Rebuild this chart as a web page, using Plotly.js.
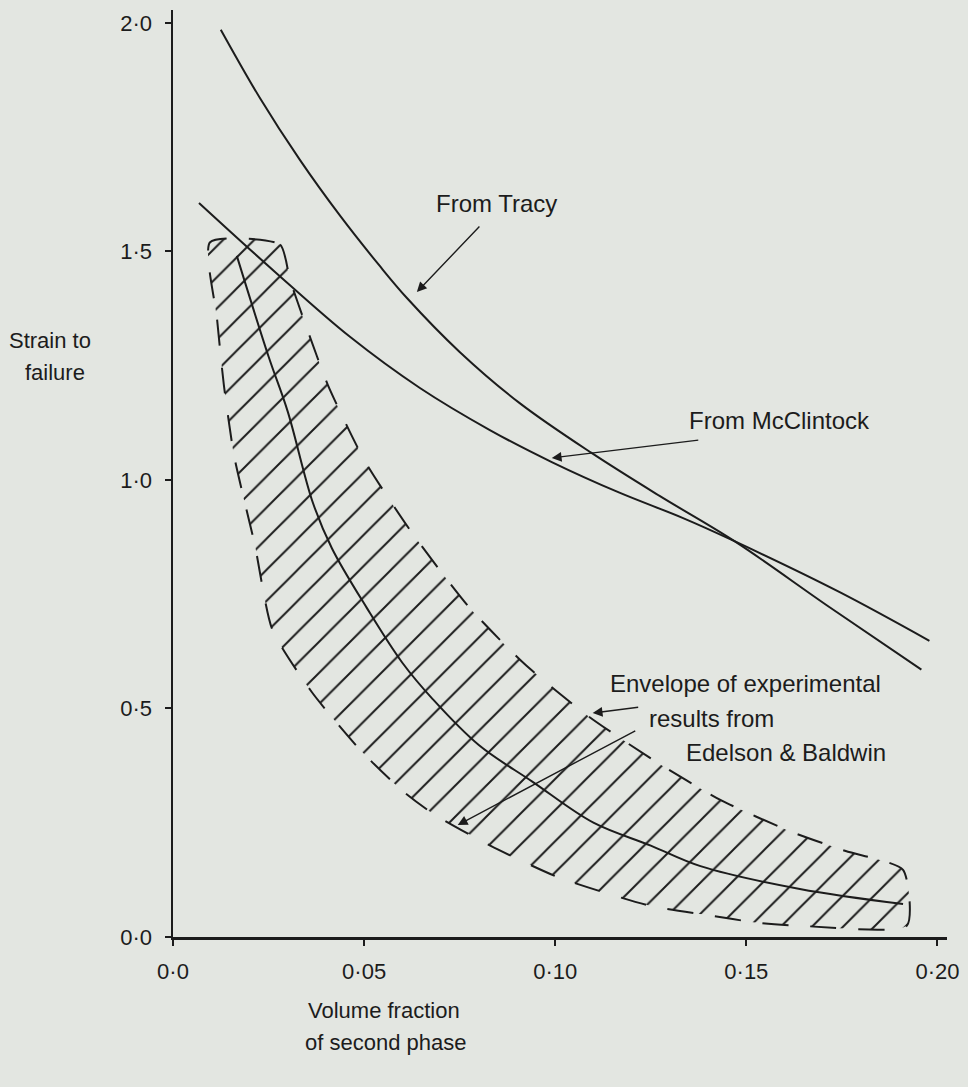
<!DOCTYPE html>
<html>
<head>
<meta charset="utf-8">
<script src="https://cdn.plot.ly/plotly-3.0.1.min.js"></script>
<style>html,body{margin:0;padding:0;background:#e3e6e1;}</style>
</head>
<body>
<div id="chart" style="width:968px;height:1087px;"></div>
<script>
// ---- data ----
const xTickVals = [0, 0.05, 0.10, 0.15, 0.20];
const xTickText = ['0·0', '0·05', '0·10', '0·15', '0·20'];
const yTickVals = [0, 0.5, 1.0, 1.5, 2.0];
const yTickText = ['0·0', '0·5', '1·0', '1·5', '2·0'];

const tracyX = [0.0125, 0.0227, 0.0332, 0.0437, 0.0541, 0.0612, 0.0750, 0.0907, 0.1095, 0.1273, 0.1469, 0.1717, 0.1958];
const tracyY = [1.985, 1.836, 1.700, 1.578, 1.468, 1.398, 1.280, 1.168, 1.059, 0.965, 0.866, 0.722, 0.585];

const mcclintockX = [0.0068, 0.0267, 0.0463, 0.0646, 0.0829, 0.0991, 0.1168, 0.1333, 0.1469, 0.1743, 0.1979];
const mcclintockY = [1.606, 1.455, 1.313, 1.201, 1.109, 1.039, 0.972, 0.917, 0.866, 0.755, 0.648];

const meanX = [0.0167, 0.025, 0.030, 0.0366, 0.0416, 0.0507, 0.060, 0.068, 0.080, 0.094, 0.110, 0.125, 0.138, 0.164, 0.191];
const meanY = [1.49, 1.27, 1.15, 0.95, 0.85, 0.72, 0.60, 0.52, 0.42, 0.34, 0.25, 0.20, 0.155, 0.105, 0.072];

const envUpperX = [0.0097, 0.0280, 0.0306, 0.0348, 0.0405, 0.0500, 0.0622, 0.0774, 0.0920, 0.1085, 0.1257, 0.1432, 0.1618, 0.1760, 0.1910];
const envUpperY = [1.520, 1.515, 1.438, 1.337, 1.208, 1.044, 0.888, 0.722, 0.597, 0.484, 0.387, 0.300, 0.230, 0.188, 0.147];
const envLowerX = [0.0097, 0.0115, 0.0133, 0.0160, 0.0214, 0.0260, 0.0363, 0.0490, 0.0600, 0.0680, 0.0830, 0.1010, 0.1250, 0.1400, 0.1530, 0.1650, 0.1920];
const envLowerY = [1.520, 1.354, 1.208, 1.052, 0.858, 0.672, 0.536, 0.409, 0.320, 0.270, 0.200, 0.130, 0.068, 0.048, 0.031, 0.024, 0.025];

const INK = '#1c1c1c';
const BG = '#e3e6e1';
const FONT = 'Liberation Sans, Arial, sans-serif';

// closed envelope polygon: upper left->right, then lower right->left
const envX = envUpperX.concat(envLowerX.slice().reverse());
const envY = envUpperY.concat(envLowerY.slice().reverse());

const traces = [
  {
    x: envX, y: envY, type: 'scatter', mode: 'lines', fill: 'toself',
    fillcolor: 'rgba(0,0,0,0)',
    fillpattern: {shape: '/', size: 22, solidity: 0.09, fgcolor: INK, bgcolor: 'rgba(0,0,0,0)'},
    line: {color: INK, width: 2, dash: '26px,22px', shape: 'spline', smoothing: 0.6},
    hoverinfo: 'skip', showlegend: false
  },
  {x: tracyX, y: tracyY, type: 'scatter', mode: 'lines',
   line: {color: INK, width: 2, shape: 'spline', smoothing: 1}, showlegend: false},
  {x: mcclintockX, y: mcclintockY, type: 'scatter', mode: 'lines',
   line: {color: INK, width: 2, shape: 'spline', smoothing: 1}, showlegend: false},
  {x: meanX, y: meanY, type: 'scatter', mode: 'lines',
   line: {color: INK, width: 2, shape: 'spline', smoothing: 1}, showlegend: false}
];

const txt = (text, x, y, opts) => Object.assign({
  text: text, x: x, y: y, xref: 'x', yref: 'y', showarrow: false,
  xanchor: 'center', yanchor: 'middle',
  font: {family: FONT, size: 24, color: INK}
}, opts || {});
const ptxt = (text, x, y) => ({
  text: text, x: x, y: y, xref: 'paper', yref: 'paper', showarrow: false,
  xanchor: 'center', yanchor: 'middle',
  font: {family: FONT, size: 22, color: INK}
});
const arrow = (x, y, ax, ay) => ({
  text: '', x: x, y: y, xref: 'x', yref: 'y', ax: ax, ay: ay,
  showarrow: true, arrowhead: 2, arrowsize: 1.4, arrowwidth: 1.4, arrowcolor: INK
});

const annotations = [
  txt('From Tracy', 0.0847, 1.604),
  arrow(0.0638, 1.411, 64, -67),
  txt('From McClintock', 0.1587, 1.131),
  arrow(0.0991, 1.048, 148, -18),
  txt('Envelope of experimental', 0.1137, 0.554, {xanchor: 'left'}),
  txt('results from', 0.1241, 0.477, {xanchor: 'left'}),
  txt('Edelson & Baldwin', 0.1338, 0.403, {xanchor: 'left'}),
  arrow(0.1098, 0.490, 47, -6),
  arrow(0.0745, 0.245, 179, -95),
  // axis titles
  ptxt('Strain to', -0.159, 0.644),
  ptxt('failure', -0.152, 0.609),
  ptxt('Volume fraction', 0.273, -0.079),
  ptxt('of second phase', 0.275, -0.114)
];

const layout = {
  width: 968, height: 1087,
  margin: {l: 173, r: 21, t: 10, b: 150, pad: 0},
  paper_bgcolor: BG, plot_bgcolor: BG,
  showlegend: false,
  font: {family: FONT, color: INK},
  xaxis: {
    range: [0, 0.2025], tickvals: xTickVals, ticktext: xTickText,
    showline: true, linecolor: INK, linewidth: 2.5, mirror: false,
    ticks: 'outside', ticklen: 6, tickwidth: 2, tickcolor: INK,
    showgrid: false, zeroline: false, ticklabelstandoff: 7,
    tickfont: {family: FONT, size: 22, color: INK}
  },
  yaxis: {
    range: [0, 2.028], tickvals: yTickVals, ticktext: yTickText,
    showline: true, linecolor: INK, linewidth: 2.5, mirror: false,
    ticks: 'outside', ticklen: 6, tickwidth: 2, tickcolor: INK,
    showgrid: false, zeroline: false, ticklabelstandoff: 8,
    tickfont: {family: FONT, size: 22, color: INK}
  },
  annotations: annotations
};

Plotly.newPlot('chart', traces, layout, {staticPlot: true});
</script>
</body>
</html>
